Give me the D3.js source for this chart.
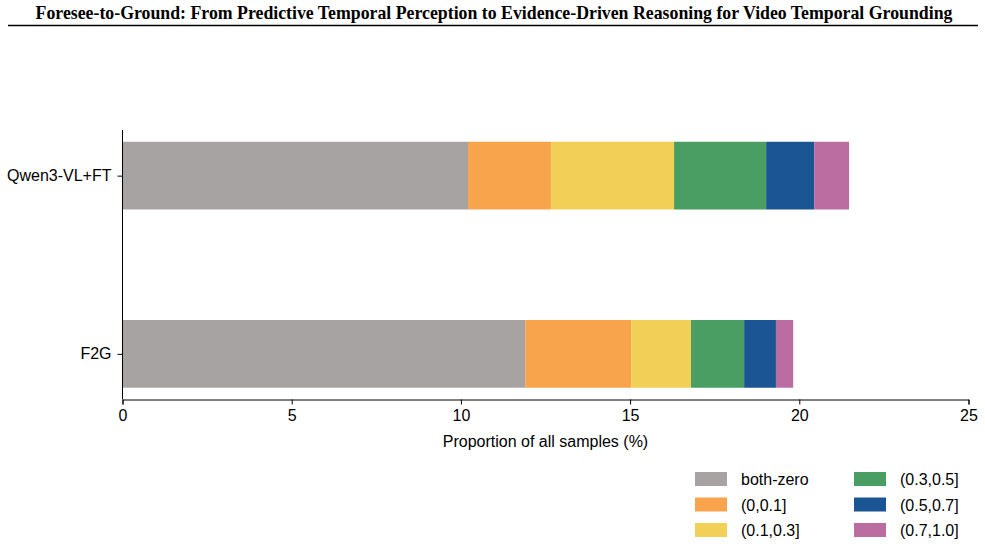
<!DOCTYPE html>
<meta charset="utf-8">
<style>
body { margin: 0; background: #fff; }
text { font-family: "Liberation Sans", Arial, sans-serif; }
.title { font-family: "Liberation Serif", "Times New Roman", serif; font-weight: bold; font-size: 17.8px; }
</style>
<body>
<svg width="985" height="546"></svg>
<script src="https://cdn.jsdelivr.net/npm/d3@7"></script>
<script>
// models, top to bottom
var models = ["Qwen3-VL+FT", "F2G"];
// IoU bins (stack order)
var bins = ["both-zero", "(0,0.1]", "(0.1,0.3]", "(0.3,0.5]", "(0.5,0.7]", "(0.7,1.0]"];
var binColors = ["#a7a3a2", "#f8a44c", "#f2d058", "#4a9e63", "#1c5593", "#bb6ca1"];
// proportion of all samples (%) per bin
var qwenValues = [10.21, 2.45, 3.64, 2.72, 1.42, 1.03];
var f2gValues  = [11.90, 3.13, 1.77, 1.57, 0.94, 0.51];
var xTicks = [0, 5, 10, 15, 20, 25];

var svg = d3.select("svg");
var plotLeft = 122.5, plotRight = 968.5, plotTop = 130, plotBottom = 399.5;
var fs = 16;

// title + rule
svg.append("text").attr("class", "title")
    .attr("x", 494).attr("y", 19).attr("text-anchor", "middle")
    .text("Foresee-to-Ground: From Predictive Temporal Perception to Evidence-Driven Reasoning for Video Temporal Grounding");
svg.append("line").attr("x1", 8).attr("x2", 978).attr("y1", 25.5).attr("y2", 25.5)
    .attr("stroke", "#000").attr("stroke-width", 1.6);

var x = d3.scaleLinear().domain([0, 25]).range([plotLeft, plotRight]);
var y = d3.scaleLinear().domain([-0.256, 1.256]).range([plotTop, plotBottom]);
var barH = y(0.19) - y(-0.19);

var rows = [qwenValues, f2gValues];
var stacked = rows.map(function(vals, i) {
  var acc = 0;
  return vals.map(function(v, j) {
    var d = { model: models[i], row: i, bin: j, x0: acc, x1: acc + v };
    acc += v;
    return d;
  });
});

svg.append("g").selectAll("g")
    .data(stacked)
    .enter().append("g")
    .selectAll("rect")
    .data(function(d) { return d; })
    .enter().append("rect")
    .attr("x", function(d) { return x(d.x0); })
    .attr("width", function(d) { return x(d.x1) - x(d.x0); })
    .attr("y", function(d) { return y(d.row) - barH / 2; })
    .attr("height", barH)
    .attr("fill", function(d) { return binColors[d.bin]; });

// x axis
var xAxis = svg.append("g").attr("transform", "translate(0," + plotBottom + ")")
    .call(d3.axisBottom(x).tickValues(xTicks).tickSize(5).tickPadding(5).tickFormat(d3.format("d")));
xAxis.select(".domain").attr("stroke", "#000").attr("stroke-width", 1);
xAxis.selectAll("text").attr("font-size", fs).attr("font-family", "Liberation Sans, Arial, sans-serif").attr("fill", "#000");

// y axis
var yAxis = svg.append("g").attr("transform", "translate(" + plotLeft + ",0)")
    .call(d3.axisLeft(y).tickValues([0, 1]).tickSize(5).tickPadding(6)
      .tickFormat(function(d) { return models[d]; }));
yAxis.select(".domain").attr("stroke", "#000").attr("d", "M0," + plotTop + "V" + plotBottom);
yAxis.selectAll("text").attr("font-size", fs).attr("font-family", "Liberation Sans, Arial, sans-serif").attr("fill", "#000");

svg.append("text").attr("x", (plotLeft + plotRight) / 2).attr("y", 447)
    .attr("text-anchor", "middle").attr("font-size", fs)
    .text("Proportion of all samples (%)");

// legend: two columns of three
var legend = svg.append("g").selectAll("g")
    .data(bins)
    .enter().append("g")
    .attr("transform", function(d, i) {
      var col = Math.floor(i / 3), row = i % 3;
      return "translate(" + (695 + col * 159) + "," + (472 + row * 25.5) + ")";
    });
legend.append("rect").attr("width", 32).attr("height", 14)
    .attr("fill", function(d, i) { return binColors[i]; });
legend.append("text").attr("x", 46).attr("y", 13).attr("font-size", fs)
    .text(function(d) { return d; });
</script>
</body>
